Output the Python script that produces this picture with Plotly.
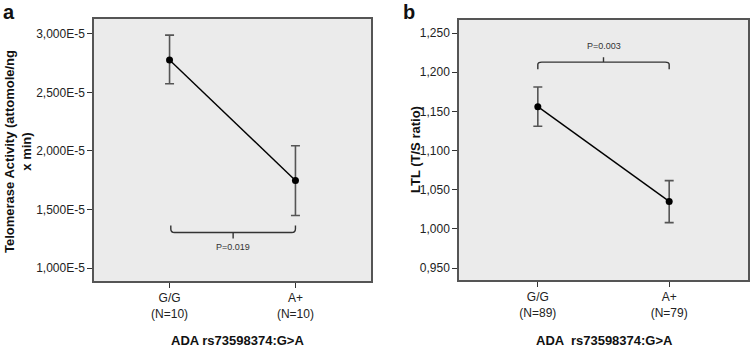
import plotly.graph_objects as go

# ---- data ----
categories = ["G/G", "A+"]
a_ticklabels = ["G/G<br>(N=10)", "A+<br>(N=10)"]
b_ticklabels = ["G/G<br>(N=89)", "A+<br>(N=79)"]

# Panel a: telomerase activity, in units of 1E-5
a_mean = [2.778, 1.748]
a_upper = [2.990, 2.045]
a_lower = [2.575, 1.449]
a_yticks = [1.0, 1.5, 2.0, 2.5, 3.0]
a_yticktext = ["1,000E-5", "1,500E-5", "2,000E-5", "2,500E-5", "3,000E-5"]
a_pvalue = "P=0.019"

# Panel b: LTL (T/S ratio)
b_mean = [1.156, 1.035]
b_upper = [1.181, 1.0615]
b_lower = [1.131, 1.008]
b_yticks = [0.95, 1.00, 1.05, 1.10, 1.15, 1.20, 1.25]
b_yticktext = ["0,950", "1,000", "1,050", "1,100", "1,150", "1,200", "1,250"]
b_pvalue = "P=0.003"

# bracket levels (data units)
a_br = dict(end=1.363, bar=1.303, tick=1.252, text=1.18)
b_br = dict(end=1.2038, bar=1.2128, tick=1.219, text=1.233)

FONT = "Liberation Sans, Arial, sans-serif"
LINE_C = "#000000"
ERR_C = "#555555"
BG = "#EBEBEB"

fig = go.Figure()

def add_panel(mean, upper, lower, xa, ya):
    plus = [u - m for u, m in zip(upper, mean)]
    minus = [m - l for m, l in zip(mean, lower)]
    fig.add_trace(go.Scatter(
        x=categories, y=mean, mode="lines+markers",
        line=dict(color=LINE_C, width=1.4),
        marker=dict(color=LINE_C, size=7),
        error_y=dict(type="data", array=plus, arrayminus=minus, visible=True,
                     color=ERR_C, thickness=1.6, width=4.5),
        xaxis=xa, yaxis=ya, showlegend=False, hoverinfo="skip"))

add_panel(a_mean, a_upper, a_lower, "x", "y")
add_panel(b_mean, b_upper, b_lower, "x2", "y2")

axis_common = dict(showline=True, mirror=True, linecolor="#555555", linewidth=1.5,
                   showgrid=False, zeroline=False, ticks="outside", ticklen=5,
                   tickcolor="#333333", tickwidth=1, automargin=False,
                   tickfont=dict(family=FONT, size=12, color="#222222"))

fig.update_layout(
    width=751, height=350,
    margin=dict(l=0, r=0, t=0, b=0, autoexpand=False),
    paper_bgcolor="white", plot_bgcolor=BG,
    xaxis=dict(domain=[94/751, 371/751], range=[-0.6, 1.6], type="category",
               tickvals=categories, ticktext=a_ticklabels, anchor="y", **axis_common),
    yaxis=dict(domain=[1-281/350, 1-19/350], range=[0.889, 3.128],
               tickvals=a_yticks, ticktext=a_yticktext, anchor="x", **axis_common),
    xaxis2=dict(domain=[459/751, 748/751], range=[-0.6, 1.6], type="category",
                tickvals=categories, ticktext=b_ticklabels, anchor="y2", **axis_common),
    yaxis2=dict(domain=[1-280/350, 1-20/350], range=[0.9347, 1.2666],
                tickvals=b_yticks, ticktext=b_yticktext, anchor="x2", **axis_common),
)

def bracket_path(x0, x1, end, bar, tick, rx, ry):
    xm = (x0 + x1) / 2
    s = 1 if end > bar else -1
    return (f"M {x0},{end} L {x0},{bar + s*ry} Q {x0},{bar} {x0+rx},{bar} "
            f"L {x1-rx},{bar} Q {x1},{bar} {x1},{bar + s*ry} L {x1},{end} "
            f"M {xm},{bar} L {xm},{tick}")

fig.add_shape(type="path", xref="x", yref="y",
              path=bracket_path(0.01, 1.0, a_br["end"], a_br["bar"], a_br["tick"], 0.03, 0.03),
              line=dict(color="#333333", width=1.4))
fig.add_shape(type="path", xref="x2", yref="y2",
              path=bracket_path(0.0, 1.0, b_br["end"], b_br["bar"], b_br["tick"], 0.03, 0.003),
              line=dict(color="#333333", width=1.4))

C = dict(xanchor="center", yanchor="middle", showarrow=False)
annos = [
    dict(x=0.5, y=a_br["text"], xref="x", yref="y", text=a_pvalue,
         font=dict(family=FONT, size=9, color="#333333"), **C),
    dict(x=0.5, y=b_br["text"], xref="x2", yref="y2", text=b_pvalue,
         font=dict(family=FONT, size=9, color="#333333"), **C),
    dict(x=18/751, y=1-152/350, xref="paper", yref="paper", textangle=-90,
         text="<b>Telomerase Activity (attomole/ng<br>x min)</b>",
         font=dict(family=FONT, size=13, color="#111111"), **C),
    dict(x=415/751, y=1-150/350, xref="paper", yref="paper", textangle=-90,
         text="<b>LTL (T/S ratio)</b>",
         font=dict(family=FONT, size=13, color="#111111"), **C),
    dict(x=237/751, y=1-340/350, xref="paper", yref="paper",
         text="<b>ADA rs73598374:G&gt;A</b>",
         font=dict(family=FONT, size=13, color="#111111"), **C),
    dict(x=604/751, y=1-340/350, xref="paper", yref="paper",
         text="<b>ADA  rs73598374:G&gt;A</b>",
         font=dict(family=FONT, size=13, color="#111111"), **C),
    dict(x=9/751, y=1-12/350, xref="paper", yref="paper", text="<b>a</b>",
         font=dict(family=FONT, size=20, color="#111111"), **C),
    dict(x=409/751, y=1-12/350, xref="paper", yref="paper", text="<b>b</b>",
         font=dict(family=FONT, size=20, color="#111111"), **C),
]
fig.update_layout(annotations=annos)

fig.write_html("out.html",
               config={"displayModeBar": False},
               post_script="document.body.style.margin='0';document.body.style.overflow='hidden';")
